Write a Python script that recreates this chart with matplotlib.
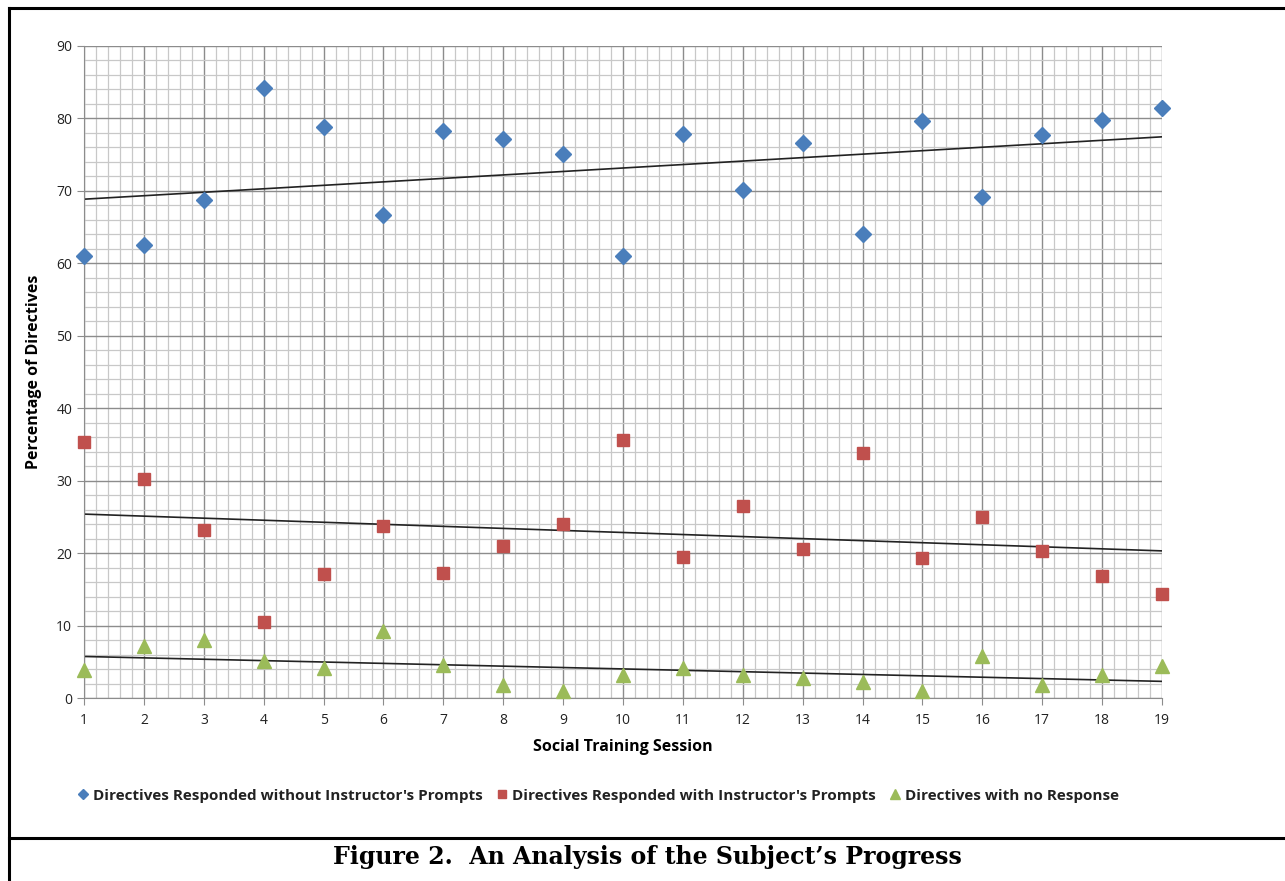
import numpy as np
import matplotlib
matplotlib.use("Agg")
import matplotlib.pyplot as plt
from matplotlib.lines import Line2D
from matplotlib.ticker import MultipleLocator

plt.rcParams['font.family'] = ['Open Sans', 'DejaVu Sans']

# Data
sessions = list(range(1, 20))
without_prompts = [61.0, 62.5, 68.7, 84.2, 78.8, 66.7, 78.3, 77.2, 75.1, 61.0,
                   77.9, 70.1, 76.6, 64.1, 79.7, 69.2, 77.7, 79.8, 81.4]
with_prompts = [35.3, 30.2, 23.2, 10.5, 17.1, 23.7, 17.3, 21.0, 24.0, 35.6,
                19.5, 26.5, 20.6, 33.8, 19.3, 25.0, 20.3, 16.8, 14.4]
no_response = [3.8, 7.2, 8.0, 5.1, 4.1, 9.2, 4.5, 1.8, 0.9, 3.2,
               4.2, 3.2, 2.8, 2.2, 0.9, 5.8, 1.8, 3.2, 4.4]
labels = ["Directives Responded without Instructor's Prompts",
          "Directives Responded with Instructor's Prompts",
          "Directives with no Response"]

fig = plt.figure(figsize=(12.85, 8.81), dpi=100)
ax = fig.add_axes([0.0654, 0.2077, 0.8389, 0.7401])

# grid like excel
ax.xaxis.set_major_locator(MultipleLocator(1))
ax.xaxis.set_minor_locator(MultipleLocator(0.2))
ax.yaxis.set_major_locator(MultipleLocator(10))
ax.yaxis.set_minor_locator(MultipleLocator(2))
ax.grid(which='major', color='#8c8c8c', linewidth=1.0)
ax.grid(which='minor', color='#c8c8c8', linewidth=0.9)
ax.set_axisbelow(True)
ax.set_xlim(1, 19)
ax.set_ylim(0, 90)

x = np.array(sessions)
series = [(without_prompts, 'D', '#4a7ebb', 8), (with_prompts, 's', '#c0504d', 9),
          (no_response, '^', '#9bbb59', 10)]
for (vals, mk, col, ms), lab in zip(series, labels):
    ax.plot(x, vals, linestyle='none', marker=mk, color=col, markersize=ms,
            label=lab, clip_on=False, zorder=3)
    k, b = np.polyfit(x, vals, 1)
    ax.plot([1, 19], [k * 1 + b, k * 19 + b], color='#222222', linewidth=1.2, zorder=2)

for s in ['top', 'right']:
    ax.spines[s].set_visible(False)
for s in ['left', 'bottom']:
    ax.spines[s].set_color('#8c8c8c')
ax.tick_params(which='major', length=5, color='#8c8c8c', labelsize=10, labelcolor='#222222')
ax.tick_params(axis='x', pad=6)
ax.tick_params(which='minor', length=0)

ax.set_xlabel("Social Training Session", fontsize=11.5, fontweight='bold', labelpad=8)
ax.set_ylabel("Percentage of Directives", fontsize=11.5, fontweight='bold', labelpad=10)

leg = ax.legend(loc='center', bbox_to_anchor=(0.477, -0.150), ncol=3, frameon=False,
                fontsize=11, handlelength=0.7, handletextpad=0.3, columnspacing=0.9,
                markerscale=0.65)
for t in leg.get_texts():
    t.set_fontweight('bold')
    t.set_color('#222222')

# border and caption
fig.add_artist(Line2D([0.007, 0.007], [0, 0.991], color='black', linewidth=2.2))
fig.add_artist(Line2D([0.007, 1.0], [0.991, 0.991], color='black', linewidth=2.2))
fig.add_artist(Line2D([0.007, 1.0], [0.049, 0.049], color='black', linewidth=2.2))
fig.text(0.504, 0.027, "Figure 2.  An Analysis of the Subject\u2019s Progress",
         ha='center', va='center', fontsize=17, fontweight='bold', family='DejaVu Serif')

fig.savefig("out.png", dpi=100)
